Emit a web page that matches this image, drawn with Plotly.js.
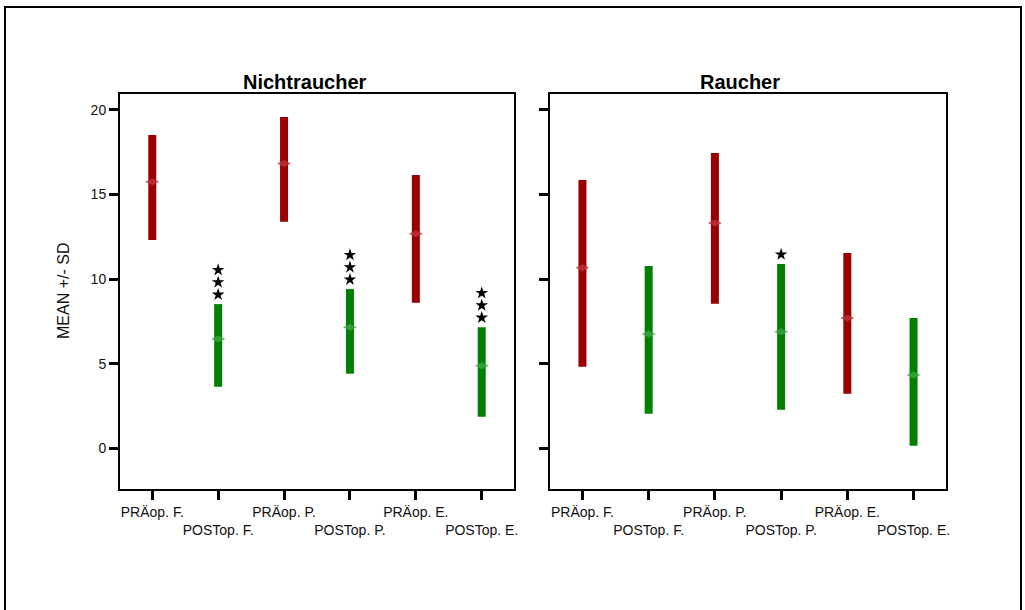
<!DOCTYPE html>
<html>
<head>
<meta charset="utf-8">
<script src="https://cdn.plot.ly/plotly-3.0.1.min.js"></script>
<style>
  html, body { margin: 0; padding: 0; background: #fff; }
  #chart { width: 1025px; height: 610px; }
</style>
</head>
<body>
<div id="chart"></div>
<script>
// ---- data ----
const categories = ['PRÄop. F.', 'POSTop. F.', 'PRÄop. P.', 'POSTop. P.', 'PRÄop. E.', 'POSTop. E.'];
const panelTitles = ['Nichtraucher', 'Raucher'];
const nichtMean  = [15.75, 6.46, 16.83, 7.16, 12.68, 4.88];
const nichtUpper = [18.51, 8.52, 19.57, 9.41, 16.14, 7.16];
const nichtLower = [12.30, 3.64, 13.38, 4.41, 8.60, 1.87];
const rauchMean  = [10.67, 6.75, 13.31, 6.89, 7.70, 4.33];
const rauchUpper = [15.85, 10.77, 17.44, 10.89, 11.54, 7.70];
const rauchLower = [4.82, 2.04, 8.54, 2.28, 3.23, 0.15];
const nichtStars = [0, 3, 0, 3, 0, 3];
const rauchStars = [0, 0, 0, 1, 0, 0];
const yTickVals = [0, 5, 10, 15, 20];
const yTitle = 'MEAN +/- SD';

// ---- styling / layout ----
const W = 1025, H = 610;
const FONT = 'Liberation Sans, Arial, Helvetica, sans-serif';
const RED = '#990000', GREEN = '#008000';
const yRange = [-2.40, 20.93];
const xRange = [-0.49, 5.49];
const plotTop = 94, plotBottom = 489;
const pxPerUnit = (plotBottom - plotTop) / (yRange[1] - yRange[0]);
const domains = [[120 / W, 514 / W], [550 / W, 946 / W]];
const yDomain = [1 - plotBottom / H, 1 - plotTop / H];

const panels = [
  {mean: nichtMean, upper: nichtUpper, lower: nichtLower, stars: nichtStars},
  {mean: rauchMean, upper: rauchUpper, lower: rauchLower, stars: rauchStars}
];

const tickText = categories.map((c, i) => i % 2 === 1 ? '&nbsp;<br>' + c : c);
const tickVals = categories.map((c, i) => i);

const traces = [];
panels.forEach((p, pi) => {
  const xa = pi === 0 ? 'x' : 'x2';
  const ya = pi === 0 ? 'y' : 'y2';
  [[0, RED, 'rgba(190,50,60,0.8)'], [1, GREEN, 'rgba(60,165,70,0.8)']].forEach(([parity, col, mcol]) => {
    const idx = tickVals.filter(i => i % 2 === parity);
    traces.push({
      type: 'scatter', mode: 'markers', xaxis: xa, yaxis: ya,
      x: idx, y: idx.map(i => p.mean[i]),
      error_y: {
        type: 'data', symmetric: false,
        array: idx.map(i => p.upper[i] - p.mean[i]),
        arrayminus: idx.map(i => p.mean[i] - p.lower[i]),
        thickness: 8, width: 0, color: col
      },
      marker: {symbol: 'diamond-wide', size: 10, color: mcol},
      showlegend: false, hoverinfo: 'skip'
    });
  });
  const sx = [], sy = [];
  p.stars.forEach((n, i) => {
    for (let k = 0; k < n; k++) {
      sx.push(i);
      sy.push(p.upper[i] + (9.5 + 12.3 * k) / pxPerUnit);
    }
  });
  traces.push({
    type: 'scatter', mode: 'markers', xaxis: xa, yaxis: ya,
    x: sx, y: sy,
    marker: {symbol: 'star', size: 9.5, color: '#000', line: {width: 0}},
    showlegend: false, hoverinfo: 'skip'
  });
});

function xAxis(i, anchor) {
  return {
    domain: domains[i], anchor: anchor, range: xRange,
    tickmode: 'array', tickvals: tickVals, ticktext: tickText,
    ticks: 'outside', ticklen: 9, tickwidth: 3, tickcolor: '#000',
    showline: true, linecolor: '#000', linewidth: 2, mirror: true,
    showgrid: false, zeroline: false,
    tickfont: {family: FONT, size: 14, color: '#111'}, tickangle: 0
  };
}
function yAxis(i, anchor, labels) {
  return {
    domain: yDomain, anchor: anchor, range: yRange,
    tickmode: 'array', tickvals: yTickVals, ticktext: yTickVals.map(String),
    showticklabels: labels,
    ticks: 'outside', ticklen: 9, tickwidth: 3, tickcolor: '#000',
    showline: true, linecolor: '#000', linewidth: 2, mirror: true,
    showgrid: false, zeroline: false,
    tickfont: {family: FONT, size: 14, color: '#111'}
  };
}

const titleX = [304.5 / W, 740 / W];
const annotations = panelTitles.map((t, i) => ({
  text: '<b>' + t + '</b>', xref: 'paper', yref: 'paper',
  x: titleX[i], y: 1 - 82 / H, xanchor: 'center', yanchor: 'middle',
  showarrow: false, font: {family: FONT, size: 20, color: '#000'}
}));
annotations.push({
  text: yTitle, xref: 'paper', yref: 'paper', x: 63 / W, y: 1 - 291 / H,
  xanchor: 'center', yanchor: 'middle', textangle: -90, showarrow: false,
  font: {family: FONT, size: 16, color: '#111'}
});

const layout = {
  width: W, height: H,
  margin: {l: 0, r: 0, t: 0, b: 0},
  paper_bgcolor: '#fff', plot_bgcolor: '#fff',
  showlegend: false,
  xaxis: xAxis(0, 'y'), yaxis: yAxis(0, 'x', true),
  xaxis2: xAxis(1, 'y2'), yaxis2: yAxis(1, 'x2', false),
  annotations: annotations,
  shapes: [{
    type: 'rect', xref: 'paper', yref: 'paper',
    x0: 5 / W, x1: 1021 / W, y0: -0.05, y1: 1 - 7 / H,
    line: {color: '#000', width: 2}, fillcolor: 'rgba(0,0,0,0)'
  }]
};

Plotly.newPlot('chart', traces, layout, {staticPlot: true, displayModeBar: false});
</script>
</body>
</html>
